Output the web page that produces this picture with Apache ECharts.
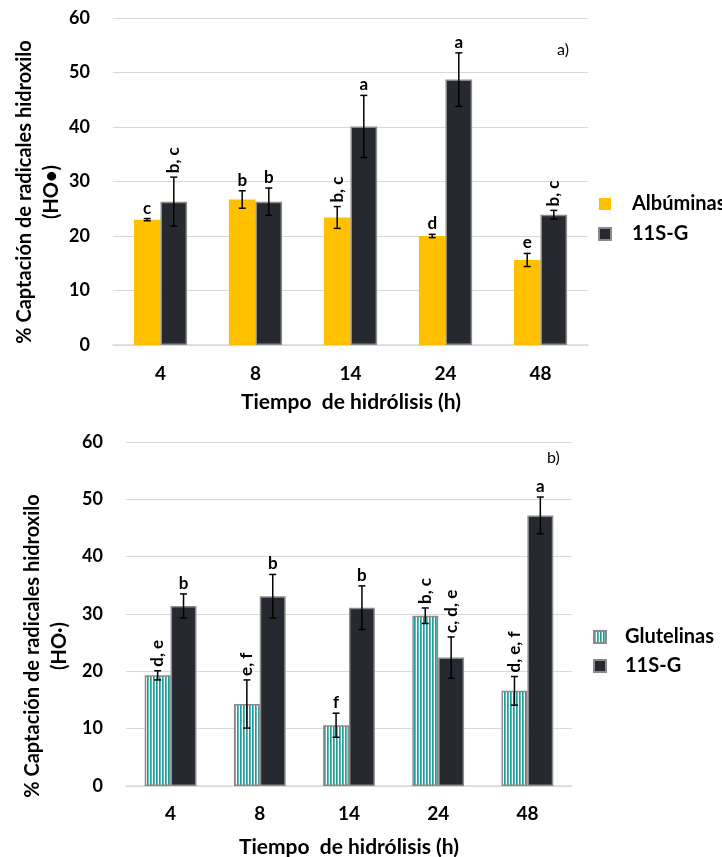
<!DOCTYPE html>
<html>
<head>
<meta charset="utf-8">
<script src="https://cdn.jsdelivr.net/npm/echarts@6/dist/echarts.min.js"></script>
<style>
  html, body { margin: 0; padding: 0; background: #fff; }
  #chart { width: 722px; height: 857px; }
</style>
</head>
<body>
<div id="chart"></div>
<script>
// Hydrolysis times (h)
const categories = ['4', '8', '14', '24', '48'];
const xTitle = 'Tiempo  de hidrólisis (h)';

// Panel a) Albúminas vs 11S-G
const albuminas     = [23.0, 26.7, 23.4, 20.0, 15.6];
const albuminasErr  = [0.2, 1.6, 2.0, 0.3, 1.2];
const albuminasSig  = ['c', 'b', 'b, c', 'd', 'e'];
const g11sA         = [26.3, 26.3, 40.1, 48.7, 23.9];
const g11sAErr      = [4.5, 2.5, 5.7, 4.9, 0.8];
const g11sASig      = ['b, c', 'b', 'a', 'a', 'b, c'];

// Panel b) Glutelinas vs 11S-G
const glutelinas    = [19.3, 14.3, 10.6, 29.7, 16.6];
const glutelinasErr = [0.8, 4.2, 2.1, 1.35, 2.5];
const glutelinasSig = ['d, e', 'e, f', 'f', 'b, c', 'd, e, f'];
const g11sB         = [31.4, 33.1, 31.1, 22.4, 47.2];
const g11sBErr      = [2.1, 3.8, 3.8, 3.6, 3.2];
const g11sBSig      = ['b', 'b', 'b', 'c, d, e', 'a'];

const yTicks = { min: 0, max: 60, interval: 10 };

const FONT = 'Lato, "Open Sans", sans-serif';
const YELLOW = '#FFC000';
const DARK = '#262930';
const EDGE = '#8a8a8a';
const GRID_LINE = '#d9d9d9';

// Vertical teal / white stripes for Glutelinas
function stripePattern() {
  const c = document.createElement('canvas');
  c.width = 3; c.height = 8;
  const ctx = c.getContext('2d');
  ctx.fillStyle = '#ffffff';
  ctx.fillRect(0, 0, 3, 8);
  ctx.fillStyle = '#1e9e9c';
  ctx.fillRect(0, 0, 1.7, 8);
  return { image: c, repeat: 'repeat' };
}
const STRIPES = stripePattern();

const BAR_RATIO_A = 0.28;
const BAR_RATIO_B = 0.29;

// Error bars plus significance letters, placed over each bar of a pair
function errorSeries(gridIdx, values, errs, sigs, slot, ratio) {
  return {
    type: 'custom',
    xAxisIndex: gridIdx,
    yAxisIndex: gridIdx,
    z: 10,
    silent: true,
    data: values.map((v, i) => [i, v, errs[i]]),
    renderItem: function (params, api) {
      const i = api.value(0), v = api.value(1), e = api.value(2);
      const band = api.size([1, 0])[0];
      const base = api.coord([i, v]);
      const x = base[0] + (slot - 0.5) * ratio * band;
      const top = api.coord([i, v + e])[1];
      const bot = api.coord([i, v - e])[1];
      const cap = 3.5;
      const lineStyle = { stroke: '#000', lineWidth: 1.5 };
      const label = sigs[params.dataIndex];
      const rotated = label.indexOf(',') >= 0;
      const text = rotated
        ? {
            type: 'text', x: x, y: top - 4, rotation: Math.PI / 2,
            style: { text: label, textAlign: 'left', textVerticalAlign: 'middle',
                     font: 'bold 17px ' + FONT, fill: '#000' }
          }
        : {
            type: 'text', x: x, y: top - 2,
            style: { text: label, textAlign: 'center', textVerticalAlign: 'bottom',
                     font: 'bold 17px ' + FONT, fill: '#000' }
          };
      return {
        type: 'group',
        children: [
          { type: 'line', shape: { x1: x, y1: top, x2: x, y2: bot }, style: lineStyle },
          { type: 'line', shape: { x1: x - cap, y1: top, x2: x + cap, y2: top }, style: lineStyle },
          { type: 'line', shape: { x1: x - cap, y1: bot, x2: x + cap, y2: bot }, style: lineStyle },
          text
        ]
      };
    }
  };
}

function yAxisCfg(gridIdx) {
  return {
    type: 'value',
    gridIndex: gridIdx,
    min: yTicks.min, max: yTicks.max, interval: yTicks.interval,
    axisLine: { show: false },
    axisTick: { show: false },
    axisLabel: { margin: 23, color: '#000', fontSize: 18, fontWeight: 'bold', fontFamily: FONT },
    splitLine: { lineStyle: { color: GRID_LINE, width: 1 } }
  };
}

function xAxisCfg(gridIdx, margin) {
  return {
    type: 'category',
    gridIndex: gridIdx,
    data: categories,
    axisLine: { lineStyle: { color: GRID_LINE, width: 1.5 } },
    axisTick: { show: false },
    axisLabel: { margin: margin, color: '#000', fontSize: 19, fontWeight: 'bold', fontFamily: FONT }
  };
}

const legendTextA = { color: '#000', fontSize: 20, fontWeight: 'bold', fontFamily: FONT, padding: [0, 0, 0, 16] };
const legendTextB = { color: '#000', fontSize: 20, fontWeight: 'bold', fontFamily: FONT, padding: [0, 0, 0, 14] };

function titleText(x, y, text) {
  return {
    type: 'text', x: x, y: y,
    style: { text: text, textAlign: 'center', textVerticalAlign: 'middle',
             font: 'bold 21px ' + FONT, fill: '#000' }
  };
}

const chart = echarts.init(document.getElementById('chart'), null, { renderer: 'canvas' });

chart.setOption({
  animation: false,
  backgroundColor: '#fff',
  grid: [
    { left: 113, right: 134, top: 18, height: 327 },
    { left: 126, right: 150, top: 442, height: 344 }
  ],
  xAxis: [xAxisCfg(0, 19), xAxisCfg(1, 18)],
  yAxis: [yAxisCfg(0), yAxisCfg(1)],
  legend: [
    {
      orient: 'vertical', left: 593, top: 189, itemWidth: 12, itemHeight: 12, itemGap: 10,
      icon: 'rect',
      data: ['Albúminas', '11S-G'],
      textStyle: legendTextA
    },
    {
      orient: 'vertical', left: 588, top: 622, itemWidth: 12, itemHeight: 12, itemGap: 9,
      icon: 'rect',
      data: ['Glutelinas', '11S-G'],
      textStyle: legendTextB
    }
  ],
  graphic: [
    {
      type: 'text', x: 38.5, y: 192, rotation: Math.PI / 2,
      style: {
        text: '% Captación de radicales hidroxilo\n(HO•)',
        textAlign: 'center', textVerticalAlign: 'middle', lineHeight: 27,
        font: 'bold 20px ' + FONT, fill: '#000'
      }
    },
    {
      type: 'text', x: 46.5, y: 646, rotation: Math.PI / 2,
      style: {
        text: '% Captación de radicales hidroxilo\n(HO∙)',
        textAlign: 'center', textVerticalAlign: 'middle', lineHeight: 27,
        font: 'bold 20px ' + FONT, fill: '#000'
      }
    },
    titleText(351, 402, xTitle),
    titleText(349, 847, xTitle),
    {
      type: 'text', x: 557, y: 50,
      style: { text: 'a)', textAlign: 'left', textVerticalAlign: 'middle', font: '16px ' + FONT, fill: '#000' }
    },
    {
      type: 'text', x: 547, y: 458,
      style: { text: 'b)', textAlign: 'left', textVerticalAlign: 'middle', font: '16px ' + FONT, fill: '#000' }
    }
  ],
  series: [
    {
      name: 'Albúminas', type: 'bar', xAxisIndex: 0, yAxisIndex: 0,
      data: albuminas, barWidth: (BAR_RATIO_A * 100) + '%', barGap: '0%',
      itemStyle: { color: YELLOW }
    },
    {
      name: '11S-G', type: 'bar', xAxisIndex: 0, yAxisIndex: 0,
      data: g11sA, barWidth: (BAR_RATIO_A * 100) + '%', barGap: '0%',
      itemStyle: { color: DARK, borderColor: EDGE, borderWidth: 1.5 }
    },
    {
      name: 'Glutelinas', type: 'bar', xAxisIndex: 1, yAxisIndex: 1,
      data: glutelinas, barWidth: (BAR_RATIO_B * 100) + '%', barGap: '0%',
      itemStyle: { color: STRIPES, borderColor: EDGE, borderWidth: 1.5 }
    },
    {
      name: '11S-G', type: 'bar', xAxisIndex: 1, yAxisIndex: 1,
      data: g11sB, barWidth: (BAR_RATIO_B * 100) + '%', barGap: '0%',
      itemStyle: { color: DARK, borderColor: EDGE, borderWidth: 1.5 }
    },
    errorSeries(0, albuminas, albuminasErr, albuminasSig, 0, BAR_RATIO_A),
    errorSeries(0, g11sA, g11sAErr, g11sASig, 1, BAR_RATIO_A),
    errorSeries(1, glutelinas, glutelinasErr, glutelinasSig, 0, BAR_RATIO_B),
    errorSeries(1, g11sB, g11sBErr, g11sBSig, 1, BAR_RATIO_B)
  ]
});
</script>
</body>
</html>
